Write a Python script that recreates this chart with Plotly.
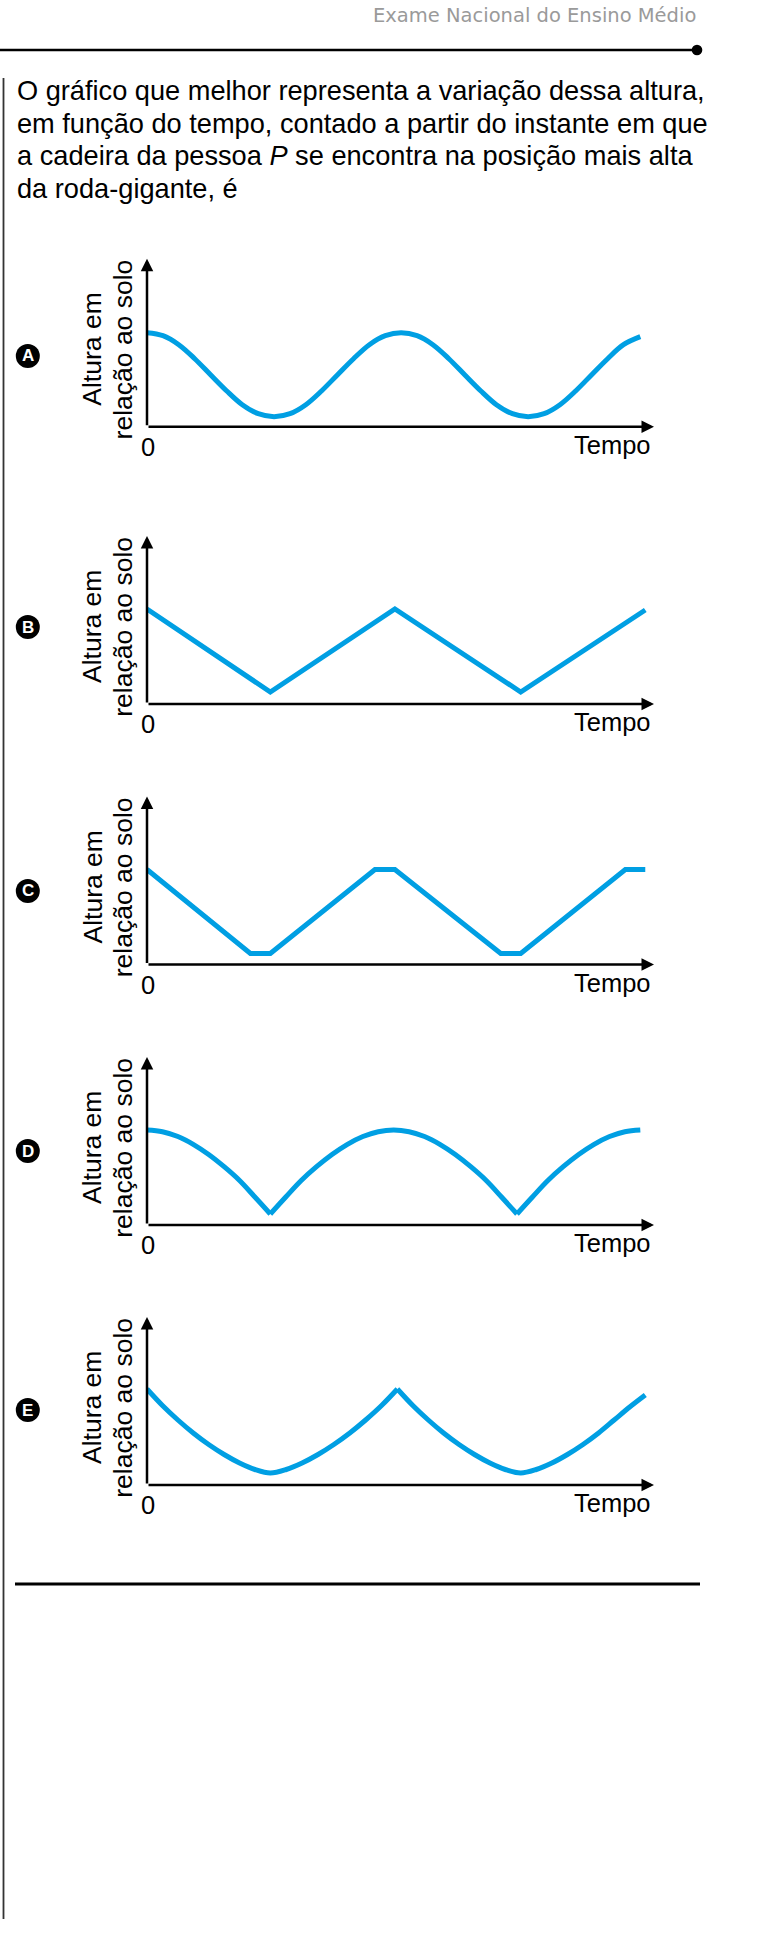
import plotly.graph_objects as go

W = 764
H = 1949

# letras das alternativas e a origem (em px) de cada grafico
letras = ["A", "B", "C", "D", "E"]
origem_y = [426.7, 704.0, 964.5, 1225.0, 1485.0]
letra_y = [356.0, 627.0, 891.0, 1151.0, 1410.0]

# curvas (tempo em meios periodos, altura em unidades arbitrarias)
A_t = [0, 0.128, 0.255, 0.383, 0.51, 0.638, 0.765, 0.893, 1.02,
       1.148, 1.275, 1.403, 1.53, 1.658, 1.785, 1.913, 2.04,
       2.168, 2.295, 2.423, 2.55, 2.678, 2.805, 2.933, 3.06,
       3.188, 3.315, 3.443, 3.57, 3.698, 3.825, 3.96]
A_h = [9.4, 9.1, 8.2, 6.8, 5.2, 3.6, 2.2, 1.3, 1.0,
       1.3, 2.2, 3.6, 5.2, 6.8, 8.2, 9.1, 9.4,
       9.1, 8.2, 6.8, 5.2, 3.6, 2.2, 1.3, 1.0,
       1.3, 2.2, 3.6, 5.2, 6.8, 8.2, 9.0]

B_t = [0, 0.99, 1.99, 3.0, 4.0]
B_h = [9.5, 1.2, 9.5, 1.2, 9.4]

C_t = [0, 0.83, 0.99, 1.83, 1.99, 2.84, 3.0, 3.84, 4.0]
C_h = [9.5, 1.1, 1.1, 9.5, 9.5, 1.1, 1.1, 9.5, 9.5]

D_t = [0, 0.124, 0.248, 0.371, 0.495, 0.619, 0.743, 0.866, 0.99, None,
       0.99, 1.114, 1.238, 1.361, 1.485, 1.609, 1.733, 1.856, 1.98,
       2.104, 2.228, 2.351, 2.475, 2.599, 2.723, 2.846, 2.97, None,
       2.97, 3.094, 3.218, 3.341, 3.465, 3.589, 3.713, 3.836, 3.96]
D_h = [9.5, 9.33, 8.85, 8.07, 7.05, 5.83, 4.45, 2.8, 1.1, None,
       1.1, 2.8, 4.45, 5.83, 7.05, 8.07, 8.85, 9.33, 9.5,
       9.33, 8.85, 8.07, 7.05, 5.83, 4.45, 2.8, 1.1, None,
       1.1, 2.8, 4.45, 5.83, 7.05, 8.07, 8.85, 9.33, 9.5]

E_t = [0, 0.124, 0.248, 0.371, 0.495, 0.619, 0.743, 0.866, 0.99,
       1.118, 1.245, 1.373, 1.5, 1.628, 1.755, 1.883, 2.01, None,
       2.01, 2.134, 2.258, 2.381, 2.505, 2.629, 2.753, 2.876, 3.0,
       3.125, 3.25, 3.375, 3.5, 3.625, 3.75, 3.875, 4.0]
E_h = [9.6, 7.95, 6.5, 5.2, 4.05, 3.05, 2.2, 1.55, 1.2,
       1.55, 2.2, 3.05, 4.05, 5.2, 6.5, 7.95, 9.6, None,
       9.6, 7.95, 6.5, 5.2, 4.05, 3.05, 2.2, 1.55, 1.2,
       1.55, 2.2, 3.05, 4.05, 5.2, 6.5, 7.8, 9.0]

curvas = [(A_t, A_h, "spline"), (B_t, B_h, "linear"), (C_t, C_h, "linear"),
          (D_t, D_h, "spline"), (E_t, E_h, "spline")]

texto = [
    "O gráfico que melhor representa a variação dessa altura,",
    "em função do tempo, contado a partir do instante em que",
    "a cadeira da pessoa <i>P</i> se encontra na posição mais alta",
    "da roda-gigante, é",
]

X_MAX = 4.07
Y_MAX = 16.8
AZUL = "#009FE3"
FONTE = "Liberation Sans, Arial, sans-serif"


def px(x):
    return x / W


def py(y):
    return 1 - y / H


fig = go.Figure()
shapes = []
annotations = []

for i, (t, h, forma) in enumerate(curvas):
    n = "" if i == 0 else str(i + 1)
    o = origem_y[i]
    fig.add_trace(go.Scatter(x=t, y=h, mode="lines",
                             line=dict(color=AZUL, width=5, shape=forma, smoothing=1.0, simplify=False),
                             connectgaps=False, showlegend=False, hoverinfo="skip",
                             xaxis="x" + n, yaxis="y" + n))
    fig.layout["xaxis" + n] = dict(domain=[px(147), px(654)], range=[0, X_MAX], visible=False,
                                   anchor="y" + n, fixedrange=True)
    fig.layout["yaxis" + n] = dict(domain=[py(o), py(o - 168)], range=[0, Y_MAX], visible=False,
                                   anchor="x" + n, fixedrange=True)

    # eixos com setas
    for (x, y) in [(X_MAX, 0), (0, Y_MAX)]:
        annotations.append(dict(x=x, y=y, ax=0, ay=0, xref="x" + n, yref="y" + n,
                                axref="x" + n, ayref="y" + n, text="", showarrow=True,
                                arrowhead=2, arrowsize=1, arrowwidth=2.5, arrowcolor="black"))

    annotations.append(dict(x=px(148), y=py(o + 20), xref="paper", yref="paper", text="0",
                            showarrow=False, xanchor="center", yanchor="middle",
                            font=dict(family=FONTE, size=25.5, color="black")))
    annotations.append(dict(x=px(653), y=py(o + 18), xref="paper", yref="paper", text="Tempo",
                            showarrow=False, xanchor="right", yanchor="middle",
                            font=dict(family=FONTE, size=25.5, color="black")))
    annotations.append(dict(x=px(92), y=py(o - 77), xref="paper", yref="paper", text="Altura em",
                            showarrow=False, textangle=-90, xanchor="center", yanchor="middle",
                            font=dict(family=FONTE, size=26.5, color="black")))
    annotations.append(dict(x=px(122.7), y=py(o - 77), xref="paper", yref="paper",
                            text="relação ao solo", showarrow=False, textangle=-90,
                            xanchor="center", yanchor="middle",
                            font=dict(family=FONTE, size=26.5, color="black")))

    # letra da alternativa
    ly = letra_y[i]
    shapes.append(dict(type="circle", xref="paper", yref="paper", x0=px(15.8), x1=px(39.8),
                       y0=py(ly + 12), y1=py(ly - 12), fillcolor="black", line=dict(width=0)))
    annotations.append(dict(x=px(27.8), y=py(ly), xref="paper", yref="paper",
                            text="<b>" + letras[i] + "</b>", showarrow=False,
                            xanchor="center", yanchor="middle",
                            font=dict(family=FONTE, size=17, color="white")))

# cabecalho
annotations.append(dict(x=px(698), y=py(15.5), xref="paper", yref="paper",
                        text="Exame Nacional do Ensino Médio", showarrow=False,
                        xanchor="right", yanchor="middle",
                        font=dict(family="DejaVu Sans, sans-serif", size=19.5, color="#9a9a9a")))
shapes.append(dict(type="line", xref="paper", yref="paper", x0=0, x1=px(697), y0=py(50), y1=py(50),
                   line=dict(color="black", width=2.7)))
shapes.append(dict(type="circle", xref="paper", yref="paper", x0=px(691.7), x1=px(702.3),
                   y0=py(55.3), y1=py(44.7), fillcolor="black", line=dict(width=0)))

# barra lateral e linha final
shapes.append(dict(type="line", xref="paper", yref="paper", x0=px(3.5), x1=px(3.5), y0=py(78), y1=py(1919),
                   line=dict(color="#333333", width=1.8)))
shapes.append(dict(type="line", xref="paper", yref="paper", x0=px(15), x1=px(700), y0=py(1584), y1=py(1584),
                   line=dict(color="black", width=3)))

# enunciado
for k, linha in enumerate(texto):
    base = 100 + 32.6 * k
    annotations.append(dict(x=px(14.5), y=py(base - 9.4), xref="paper", yref="paper", text=linha,
                            showarrow=False, xanchor="left", yanchor="middle",
                            font=dict(family=FONTE, size=27.2, color="black")))

fig.update_layout(
    width=W,
    height=H,
    margin=dict(l=0, r=0, t=0, b=0),
    paper_bgcolor="white",
    plot_bgcolor="white",
    shapes=shapes,
    annotations=annotations,
    showlegend=False,
)

# a pagina padrao tem margem de 8px no body
fig.write_html("out.html", config={"displayModeBar": False},
               post_script="document.body.style.margin = '0';")
